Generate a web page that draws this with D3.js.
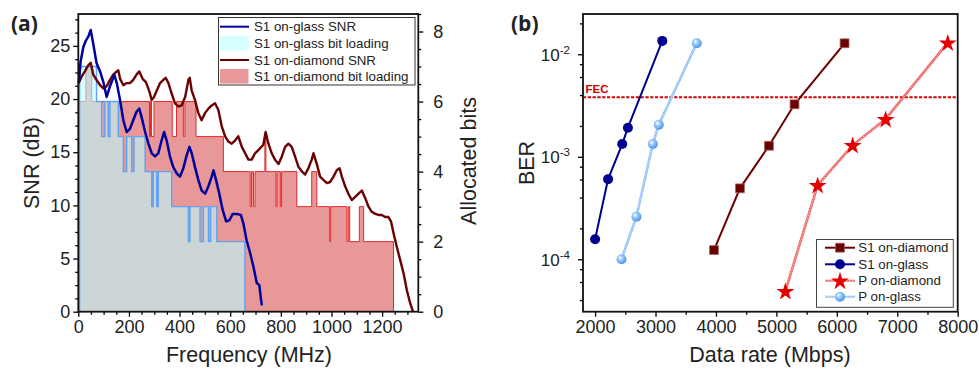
<!DOCTYPE html>
<html><head><meta charset="utf-8">
<script src="https://cdn.jsdelivr.net/npm/d3@7/dist/d3.min.js"></script>
<style>
html,body{margin:0;padding:0;background:#fff;}
svg{display:block;font-family:"Liberation Sans",Arial,sans-serif;}
</style></head>
<body>
<svg id="chart" width="979" height="371"></svg>
<script>
// ---------------- DATA: panel (a) ----------------
const glassFreq = [2,9,20,30,40,49,59,72,86,99,112,125,138,142,152,165,178,191,204,217,230,241,250,264,277,290,303,316,329,339,349,362,375,389,402,415,428,439,448,461,474,487,501,514,527,534,544,557,570,584,597,610,626,642,652,665,679,692,705,715,722,725];
const glassSNR  = [21.5,23.5,24.9,25.5,25.9,26.5,25.2,23.4,22.6,21.6,20.2,21.2,22.0,22.3,21.5,19.9,18.0,16.9,17.2,18.0,18.8,19.1,18.3,16.9,15.8,14.9,14.6,14.9,16.1,16.9,16.1,14.6,13.6,13.0,12.7,13.5,14.7,15.5,14.9,13.6,12.4,11.4,11.1,11.8,12.7,13.3,12.4,11.1,9.6,8.5,8.6,9.2,9.2,9.1,8.3,6.7,5.5,4.2,2.7,2.5,1.1,0.6];

const diamondFreq = [1,13,26,40,49,59,72,86,99,112,125,138,152,158,165,178,191,204,217,230,241,254,267,281,290,299,310,323,336,345,356,369,382,395,408,422,435,440,448,461,474,487,501,514,527,540,553,567,580,593,606,619,632,646,659,672,685,698,711,731,740,751,764,777,791,804,817,830,843,856,870,883,896,909,922,929,942,955,968,982,995,1008,1021,1032,1041,1054,1067,1080,1094,1107,1120,1133,1146,1159,1173,1186,1199,1212,1225,1235,1245,1258,1271,1285,1298,1311,1322];
const diamondSNR  = [21.5,22.1,22.6,23.2,23.4,22.3,21.8,21.3,21.0,21.2,21.8,22.3,22.6,22.7,21.9,21.3,21.5,21.5,21.8,22.3,22.6,21.9,21.6,20.7,19.9,20.2,20.8,21.5,21.8,22.0,21.5,20.5,19.6,19.3,19.4,20.2,21.8,22.0,20.8,19.9,18.7,18.0,18.7,19.1,19.4,19.6,19.0,17.4,16.5,16.0,15.8,16.1,16.5,15.5,14.9,14.3,14.3,14.9,15.2,15.7,16.9,15.8,14.9,14.3,13.9,14.6,15.5,15.8,15.5,14.6,13.6,13.2,12.9,13.5,14.3,14.9,13.9,12.7,12.4,12.1,12.2,12.7,13.3,13.5,12.7,11.8,11.1,10.5,10.8,11.1,11.4,10.7,9.9,9.4,9.2,9.1,9.1,8.9,8.9,8.5,7.4,6.1,4.9,3.6,2.0,0.8,0.0];

// bit loading: step start frequencies (MHz) and allocated bits from that frequency on
const glassBitsFreq = [0,5,72,92,105,118,125,158,178,191,211,220,264,290,296,310,316,369,435,441,481,494,514,523,547,658];
const glassBits     = [0,7,6,5,6,5,6,5,4,5,4,5,4,3,4,3,4,3,2,3,2,3,2,3,2,0];
const diamondBitsFreq = [0,3,30,53,281,285,289,299,371,388,415,421,465,573,679,684,692,698,737,741,781,785,798,803,863,922,942,993,997,1061,1066,1072,1110,1127,1245];
const diamondBits     = [0,6,7,6,5,6,5,6,5,6,5,6,5,4,3,4,3,4,5,4,3,4,3,4,3,4,3,2,3,2,3,2,3,2,0];

const freqTicks = [0,200,400,600,800,1000,1200];
const snrTicks = [0,5,10,15,20,25];
const bitsTicks = [0,2,4,6,8];
const legendA = ["S1 on-glass SNR","S1 on-glass bit loading","S1 on-diamond SNR","S1 on-diamond bit loading"];

// ---------------- DATA: panel (b) ----------------
const s1DiamondRate = [3967,4397,4877,5300,6128];
const s1DiamondBER  = [1.23e-4,4.92e-4,1.28e-3,3.25e-3,1.28e-2];
const s1GlassRate = [2000,2215,2449,2543,3112];
const s1GlassBER  = [1.57e-4,6.05e-4,1.33e-3,1.92e-3,1.35e-2];
const pDiamondRate = [5149,5683,6262,6808,7836];
const pDiamondBER  = [4.9e-5,5.3e-4,1.3e-3,2.33e-3,1.3e-2];
const pGlassRate = [2436,2684,2955,3054,3682];
const pGlassBER  = [1.0e-4,2.6e-4,1.33e-3,2.05e-3,1.28e-2];
const fecLimit = 3.8e-3;
const rateTicks = [2000,3000,4000,5000,6000,7000,8000];
const berTickExp = [-4,-3,-2];
const legendB = ["S1 on-diamond","S1 on-glass","P on-diamond","P on-glass"];

// ---------------- DRAW ----------------
const svg = d3.select("#chart");
const defs = svg.append("defs");
const grad = defs.append("radialGradient").attr("id","sphere").attr("cx","0.38").attr("cy","0.35").attr("r","0.65");
grad.append("stop").attr("offset","0").attr("stop-color","#ffffff");
grad.append("stop").attr("offset","0.35").attr("stop-color","#9fcdfa");
grad.append("stop").attr("offset","1").attr("stop-color","#4a94ea");

const C = {
  glassSNR:"#00009c", diamondSNR:"#6b0000",
  diamondFill:"#e89898", diamondEdge:"#e52828",
  glassFill:"#bbffff", glassEdge:"#5fa3f2",
  s1d:"#6b0000", s1g:"#00008f", pd:"#e30000", pdLine:"#f06868", pg:"#5aa2f0", pgLine:"#92c4f6", fec:"#d40000"
};
const font = '"Liberation Sans",Arial,sans-serif';

// ===== Panel (a) =====
const xA = d3.scaleLinear().domain([0,1343]).range([78.3,418.3]);
const yA = d3.scaleLinear().domain([0,28]).range([311.7,14]);
const yB = d3.scaleLinear().domain([0,8.5]).range([311.7,14]);

const gA = svg.append("g");
const stepData = (fs,bs)=>fs.map((f,i)=>[f,bs[i]]);
const areaStep = d3.area().x(d=>xA(d[0])).y0(yB(0)).y1(d=>yB(d[1])).curve(d3.curveStepAfter);
const lineStep = d3.line().x(d=>xA(d[0])).y(d=>yB(d[1])).curve(d3.curveStepAfter);

const dStep = stepData(diamondBitsFreq,diamondBits);
const gStep = stepData(glassBitsFreq,glassBits);
gA.append("path").attr("d",areaStep(dStep)).attr("fill",C.diamondFill);
gA.append("path").attr("d",lineStep(dStep)).attr("fill","none").attr("stroke",C.diamondEdge).attr("stroke-width",1);
gA.append("path").attr("d",areaStep(gStep)).attr("fill",C.glassFill).attr("fill-opacity",0.6);
gA.append("path").attr("d",lineStep(gStep)).attr("fill","none").attr("stroke",C.glassEdge).attr("stroke-width",1.4);

const snrLine = d3.line().x(d=>xA(d[0])).y(d=>yA(d[1]));
gA.append("path").attr("d",snrLine(diamondFreq.map((f,i)=>[f,diamondSNR[i]])))
  .attr("fill","none").attr("stroke",C.diamondSNR).attr("stroke-width",2.4).attr("stroke-linejoin","round");
gA.append("path").attr("d",snrLine(glassFreq.map((f,i)=>[f,glassSNR[i]])))
  .attr("fill","none").attr("stroke",C.glassSNR).attr("stroke-width",2.5).attr("stroke-linejoin","round");

// axes (a)
function styleAxis(g){ g.select(".domain").remove(); g.selectAll("line").attr("stroke","#000").attr("stroke-width",1.3);
  g.selectAll("text").attr("font-family",font).attr("fill","#222"); }
const minorF = d3.range(0,1343,50).filter(v=>v%200!==0);
gA.append("g").attr("transform","translate(0,311.7)").call(d3.axisBottom(xA).tickValues(minorF).tickSize(3).tickFormat("")).call(styleAxis);
gA.append("g").attr("transform","translate(0,311.7)").call(d3.axisBottom(xA).tickValues(freqTicks).tickSize(5).tickPadding(4).tickFormat(d3.format("d"))).call(styleAxis)
  .selectAll("text").attr("font-size",18);
const minorS = d3.range(0,28.01,1.25).filter(v=>v%5!==0);
gA.append("g").attr("transform","translate(78.3,0)").call(d3.axisLeft(yA).tickValues(minorS).tickSize(3).tickFormat("")).call(styleAxis);
gA.append("g").attr("transform","translate(78.3,0)").call(d3.axisLeft(yA).tickValues(snrTicks).tickSize(5).tickPadding(3)).call(styleAxis)
  .selectAll("text").attr("font-size",18);
const minorB = d3.range(0,8.51,0.5).filter(v=>v%2!==0);
gA.append("g").attr("transform","translate(418.3,0)").call(d3.axisRight(yB).tickValues(minorB).tickSize(3).tickFormat("")).call(styleAxis);
gA.append("g").attr("transform","translate(418.3,0)").call(d3.axisRight(yB).tickValues(bitsTicks).tickSize(5).tickPadding(10)).call(styleAxis)
  .selectAll("text").attr("font-size",18);
gA.append("rect").attr("x",78.3).attr("y",14).attr("width",340).attr("height",297.7)
  .attr("fill","none").attr("stroke","#111").attr("stroke-width",1.8);

gA.append("text").attr("x",249).attr("y",362).attr("text-anchor","middle").attr("font-size",21.5).attr("fill","#222").text("Frequency (MHz)");
gA.append("text").attr("transform","translate(39,163) rotate(-90)").attr("text-anchor","middle").attr("font-size",21.5).attr("fill","#222").text("SNR (dB)");
gA.append("text").attr("transform","translate(476,161) rotate(-90)").attr("text-anchor","middle").attr("font-size",21.5).attr("fill","#222").text("Allocated bits");
svg.append("text").attr("x",11).attr("y",31).attr("font-family",'"Open Sans",sans-serif').attr("font-weight",700).attr("font-size",21).attr("fill","#222").text("(a)");

// legend (a)
const lgA = gA.append("g");
lgA.append("rect").attr("x",218.5).attr("y",17.5).attr("width",196.5).attr("height",67.5).attr("fill","#fff").attr("stroke","#333").attr("stroke-width",1);
const lyA = [26.7,43.3,60,76.3];
lgA.append("line").attr("x1",220).attr("x2",249).attr("y1",lyA[0]).attr("y2",lyA[0]).attr("stroke",C.glassSNR).attr("stroke-width",2);
lgA.append("rect").attr("x",220).attr("y",lyA[1]-7.3).attr("width",28.5).attr("height",14.6).attr("fill",C.glassFill).attr("fill-opacity",0.6);
lgA.append("line").attr("x1",220).attr("x2",249).attr("y1",lyA[2]).attr("y2",lyA[2]).attr("stroke",C.diamondSNR).attr("stroke-width",2);
lgA.append("rect").attr("x",220).attr("y",lyA[3]-7.3).attr("width",28.5).attr("height",14.6).attr("fill",C.diamondFill);
legendA.forEach((t,i)=>lgA.append("text").attr("x",254).attr("y",lyA[i]+4.6).attr("font-size",13.3).attr("fill","#222").text(t));

// ===== Panel (b) =====
const xR = d3.scaleLinear().domain([1800,8000]).range([583,957.7]);
const yR = d3.scaleLog().domain([3.08e-5,0.0247]).range([311.7,14]);
const gB = svg.append("g");

// FEC
gB.append("line").attr("x1",583).attr("x2",957.7).attr("y1",yR(fecLimit)).attr("y2",yR(fecLimit))
  .attr("stroke",C.fec).attr("stroke-width",2).attr("stroke-dasharray","3.2,1.6");
gB.append("text").attr("x",585.5).attr("y",yR(fecLimit)-4.5).attr("font-size",11.5).attr("font-weight",700).attr("fill",C.fec).text("FEC");

const lineR = d3.line().x(d=>xR(d[0])).y(d=>yR(d[1]));
const zipR = (a,b)=>a.map((v,i)=>[v,b[i]]);
const s1d = zipR(s1DiamondRate,s1DiamondBER), s1g = zipR(s1GlassRate,s1GlassBER);
const pd = zipR(pDiamondRate,pDiamondBER), pg = zipR(pGlassRate,pGlassBER);

gB.append("path").attr("d",lineR(s1d)).attr("fill","none").attr("stroke",C.s1d).attr("stroke-width",2);
gB.append("path").attr("d",lineR(s1g)).attr("fill","none").attr("stroke",C.s1g).attr("stroke-width",2);
function stripedLine(g,d,col){
  g.append("path").attr("d",lineR(d)).attr("fill","none").attr("stroke",col).attr("stroke-width",2.6);
  g.append("path").attr("d",lineR(d)).attr("fill","none").attr("stroke","#fff").attr("stroke-opacity",0.55).attr("stroke-width",1).attr("stroke-dasharray","1.5,1.5");
}
stripedLine(gB,pd,C.pdLine);
stripedLine(gB,pg,C.pgLine);

const star = d3.symbol().type(d3.symbolStar).size(100);
const sq = d3.symbol().type(d3.symbolSquare).size(78);
function markers(g,d,kind){
  d.forEach(p=>drawMarker(g,xR(p[0]),yR(p[1]),kind));
}
function drawMarker(g,x,y,kind){
  if(kind==="sq") g.append("path").attr("d",sq()).attr("transform",`translate(${x},${y})`).attr("fill",C.s1d).attr("stroke","#a36060").attr("stroke-width",0.8);
  else if(kind==="dc") g.append("circle").attr("cx",x).attr("cy",y).attr("r",5).attr("fill",C.s1g);
  else if(kind==="st") g.append("path").attr("d",star()).attr("transform",`translate(${x},${y+0.8})`).attr("fill",C.pd);
  else g.append("circle").attr("cx",x).attr("cy",y).attr("r",5).attr("fill","url(#sphere)");
}
markers(gB,s1d,"sq"); markers(gB,s1g,"dc"); markers(gB,pd,"st"); markers(gB,pg,"lc");

// axes (b)
const minorR = d3.range(2500,8000,1000);
gB.append("g").attr("transform","translate(0,311.7)").call(d3.axisBottom(xR).tickValues(minorR).tickSize(3).tickFormat("")).call(styleAxis);
gB.append("g").attr("transform","translate(0,311.7)").call(d3.axisBottom(xR).tickValues(rateTicks).tickSize(5).tickPadding(4).tickFormat(d3.format("d"))).call(styleAxis)
  .selectAll("text").attr("font-size",18);
const minorL = [];
[-5,-4,-3,-2].forEach(e=>[2,4,6,8].forEach(k=>{const v=k*Math.pow(10,e); if(v>3.08e-5 && v<0.0247) minorL.push(v);}));
gB.append("g").attr("transform","translate(583,0)").call(d3.axisLeft(yR).tickValues(minorL).tickSize(3).tickFormat("")).call(styleAxis);
gB.append("g").attr("transform","translate(583,0)").call(d3.axisLeft(yR).tickValues(berTickExp.map(e=>Math.pow(10,e))).tickSize(5).tickFormat("")).call(styleAxis);
berTickExp.forEach(e=>{
  const t = gB.append("text").attr("x",570).attr("y",yR(Math.pow(10,e))+6.5).attr("text-anchor","end").attr("font-size",17).attr("fill","#222");
  t.append("tspan").text("10");
  t.append("tspan").attr("dy",-7).attr("font-size",11.5).text(String(e));
});
gB.append("rect").attr("x",583).attr("y",14).attr("width",374.7).attr("height",297.7)
  .attr("fill","none").attr("stroke","#111").attr("stroke-width",1.8);

gB.append("text").attr("x",770).attr("y",362).attr("text-anchor","middle").attr("font-size",21.5).attr("fill","#222").text("Data rate (Mbps)");
gB.append("text").attr("transform","translate(534,163) rotate(-90)").attr("text-anchor","middle").attr("font-size",21.5).attr("fill","#222").text("BER");
svg.append("text").attr("x",511).attr("y",31).attr("font-family",'"Open Sans",sans-serif').attr("font-weight",700).attr("font-size",21).attr("fill","#222").text("(b)");

// legend (b)
const lgB = gB.append("g");
lgB.append("rect").attr("x",816.5).attr("y",239.5).attr("width",136.8).attr("height",67.8).attr("fill","#fff").attr("stroke","#444").attr("stroke-width",1);
const lyB = [247.7,264.3,280.7,296.7];
const kinds = ["sq","dc","st","lc"];
const lcols = [C.s1d,C.s1g,C.pdLine,C.pgLine];
lyB.forEach((y,i)=>{
  lgB.append("line").attr("x1",825).attr("x2",855).attr("y1",y).attr("y2",y).attr("stroke",lcols[i]).attr("stroke-width",2);
  if(i>=2) lgB.append("line").attr("x1",825).attr("x2",855).attr("y1",y).attr("y2",y).attr("stroke","#fff").attr("stroke-opacity",0.55).attr("stroke-width",0.9).attr("stroke-dasharray","1.5,1.5");
  drawMarker(lgB,840,y,kinds[i]);
  lgB.append("text").attr("x",858.3).attr("y",y+4.6).attr("font-size",13.3).attr("fill","#222").text(legendB[i]);
});
</script>
</body></html>
